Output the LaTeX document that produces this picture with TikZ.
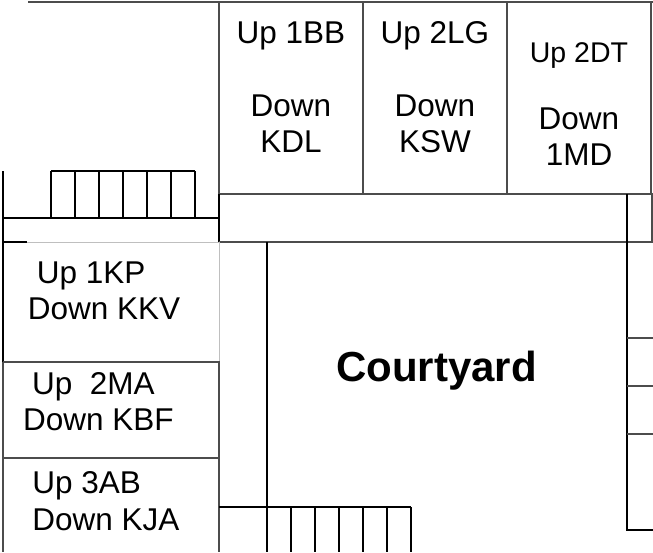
\documentclass[tikz,border=0pt]{standalone}
\usepackage{fontspec}
\setmainfont{Liberation Sans}
\usetikzlibrary{
	positioning				% Allows relative placement
}

\begin{document}
\begin{tikzpicture}[
			x=1pt, y=-1pt,
			wall/.style={
				draw=black,
				line width=2pt
			},
			partition/.style={
				draw=black!70,
				line width=1.8pt
			},
			faint/.style={
				draw=black!25,
				line width=0.8pt
			},
			room/.style={
				inner sep=0pt,
				align=center,
				font=\fontsize{31.5}{36.5}\selectfont
			},
			sideroom/.style={
				room,
				align=left
			}]

			\useasboundingbox (0,0) rectangle (653,552);

			%%% The row of rooms along the top
			\draw [partition] (28,2) -- (653,2);
			\draw [partition] (219,2) -- (219,194) -- (653,194);
			\foreach \wallx in {363, 507, 651} {
				\draw [partition] (\wallx,2) -- (\wallx,194);
			};

			\node [room] (roomBB) at (291,87) {Up 1BB\\ \\Down\\KDL};
			\node [room] (roomLG) at (435,87) {Up 2LG\\ \\Down\\KSW};
			\node [room] (roomDT) at (579,104) {\fontsize{28.5}{36.5}\selectfont Up 2DT\\[-6pt] \\Down\\1MD};

			%%% The passage below them
			\draw [wall] (3,171) -- (3,362);
			\draw [wall] (3,218) -- (219,218);
			\draw [wall] (219,194) -- (219,242);
			\draw [wall] (3,242) -- (27,242);
			\draw [faint] (27,242) -- (219,242);
			\draw [partition] (219,242) -- (653,242);
			\draw [wall] (627,194) -- (627,530) -- (653,530);
			\draw [partition] (652,194) -- (652,242);

			%%% Upper stairs
			\draw [wall] (51,171) -- (195,171);
			\foreach \i in {0,...,6} {
				\draw [wall] ({51 + 24 * \i},171) -- ({51 + 24 * \i},218);
			};

			%%% The rooms on the left
			\draw [faint] (219,242) -- (219,362);
			\draw [partition] (3,362) -- (219,362) -- (219,552);
			\draw [partition] (3,458) -- (219,458);
			\draw [partition] (3,362) -- (3,552);

			\node [sideroom] (roomKP) at (104,291) {\hspace*{9pt}Up 1KP\\Down KKV};
			\node [sideroom] (roomMA) at (98.5,401.5) {\hspace*{9pt}Up\ \ 2MA\\Down KBF};
			\node [sideroom] (roomAB) at (106,501) {Up 3AB\\Down KJA};

			%%% Lower stairs
			\draw [wall] (219,507) -- (411,507);
			\draw [wall] (267,242) -- (267,552);
			\foreach \i in {1,...,6} {
				\draw [wall] ({267 + 24 * \i},507) -- ({267 + 24 * \i},552);
			};

			%%% Doors on the right
			\foreach \wally in {338, 386, 434} {
				\draw [partition] (627,\wally) -- (653,\wally);
			};

			\node [font=\fontsize{42}{48}\selectfont\bfseries, inner sep=0pt] (courtyard) at (436.5,371) {Courtyard};

		\end{tikzpicture}
\end{document}
